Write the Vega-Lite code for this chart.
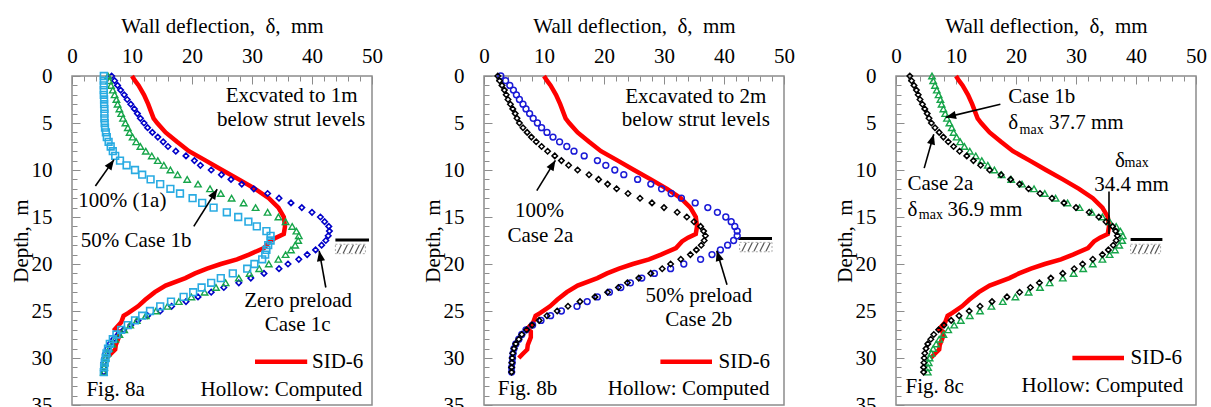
{
"$schema": "https://vega.github.io/schema/vega-lite/v6.json",
"padding": {"left": 9, "top": 14, "right": 0, "bottom": 0},
"autosize": {"type": "pad"},
"background": "white",
"spacing": 112,
"bounds": "flush",
"datasets": {
"sid": [{"d":0,"v":10.0},{"d":0.5,"v":10.5},{"d":1,"v":11.1},{"d":2,"v":12.0},{"d":3,"v":12.7},{"d":4,"v":13.3},{"d":4.5,"v":13.6},{"d":5,"v":14.2},{"d":6,"v":15.6},{"d":7,"v":17.5},{"d":8,"v":19.5},{"d":9,"v":22.3},{"d":10,"v":25.0},{"d":11,"v":27.8},{"d":12,"v":30.5},{"d":13,"v":32.8},{"d":14,"v":34.4},{"d":15,"v":35.3},{"d":16,"v":35.5},{"d":16.8,"v":35.3},{"d":17.2,"v":34.0},{"d":17.6,"v":33.0},{"d":18.3,"v":32.0},{"d":19,"v":29.5},{"d":19.5,"v":27.5},{"d":20,"v":24.8},{"d":20.5,"v":22.5},{"d":21,"v":20.5},{"d":21.5,"v":18.9},{"d":22.3,"v":15.6},{"d":23,"v":13.8},{"d":23.8,"v":12.2},{"d":24.5,"v":11.0},{"d":25.2,"v":9.4},{"d":25.5,"v":8.6},{"d":26.2,"v":8.2},{"d":26.9,"v":7.2},{"d":27.2,"v":7.8},{"d":27.8,"v":7.8},{"d":28.6,"v":7.3},{"d":29.1,"v":7.2},{"d":29.6,"v":6.4},{"d":30.0,"v":5.8}],
"comp": [
{"s":"1a","d":0,"v":5.3},{"s":"1a","d":0.5,"v":5.3},{"s":"1a","d":1,"v":5.3},{"s":"1a","d":1.5,"v":5.3},{"s":"1a","d":2,"v":5.3},{"s":"1a","d":2.5,"v":5.35},{"s":"1a","d":3,"v":5.35},{"s":"1a","d":3.5,"v":5.4},{"s":"1a","d":4,"v":5.4},{"s":"1a","d":4.5,"v":5.4},{"s":"1a","d":5,"v":5.45},{"s":"1a","d":5.5,"v":5.5},{"s":"1a","d":6,"v":5.65},{"s":"1a","d":6.5,"v":5.8},{"s":"1a","d":7,"v":6.1},{"s":"1a","d":7.5,"v":6.45},{"s":"1a","d":8,"v":6.8},{"s":"1a","d":8.5,"v":7.2},{"s":"1a","d":9,"v":8.0},{"s":"1a","d":9.5,"v":9.1},{"s":"1a","d":10,"v":10.5},{"s":"1a","d":10.5,"v":11.7},{"s":"1a","d":11,"v":13.1},{"s":"1a","d":11.5,"v":14.7},{"s":"1a","d":12,"v":16.4},{"s":"1a","d":12.5,"v":18.0},{"s":"1a","d":13,"v":20.1},{"s":"1a","d":13.5,"v":21.7},{"s":"1a","d":14,"v":23.6},{"s":"1a","d":14.5,"v":25.8},{"s":"1a","d":15,"v":27.7},{"s":"1a","d":15.5,"v":29.4},{"s":"1a","d":16,"v":30.8},{"s":"1a","d":16.5,"v":32.4},{"s":"1a","d":17,"v":33.1},{"s":"1a","d":17.5,"v":33.1},{"s":"1a","d":18,"v":32.7},{"s":"1a","d":18.5,"v":32.4},{"s":"1a","d":19,"v":32.2},{"s":"1a","d":19.5,"v":31.7},{"s":"1a","d":20,"v":30.4},{"s":"1a","d":20.5,"v":29.2},{"s":"1a","d":21,"v":26.8},{"s":"1a","d":21.5,"v":24.8},{"s":"1a","d":22,"v":23.2},{"s":"1a","d":22.5,"v":21.6},{"s":"1a","d":23,"v":20.2},{"s":"1a","d":23.5,"v":18.6},{"s":"1a","d":24,"v":16.5},{"s":"1a","d":24.5,"v":14.7},{"s":"1a","d":25,"v":13.0},{"s":"1a","d":25.5,"v":11.7},{"s":"1a","d":26,"v":10.5},{"s":"1a","d":26.5,"v":9.3},{"s":"1a","d":27,"v":8.2},{"s":"1a","d":27.5,"v":7.4},{"s":"1a","d":28,"v":6.8},{"s":"1a","d":28.5,"v":6.3},{"s":"1a","d":29,"v":6.0},{"s":"1a","d":29.5,"v":5.75},{"s":"1a","d":30,"v":5.6},{"s":"1a","d":30.5,"v":5.45},{"s":"1a","d":31,"v":5.35},{"s":"1a","d":31.5,"v":5.3},
{"s":"1b","d":0,"v":6.0},{"s":"1b","d":0.5,"v":6.2},{"s":"1b","d":1,"v":6.5},{"s":"1b","d":1.5,"v":6.8},{"s":"1b","d":2,"v":7.1},{"s":"1b","d":2.5,"v":7.4},{"s":"1b","d":3,"v":7.6},{"s":"1b","d":3.5,"v":7.9},{"s":"1b","d":4,"v":8.2},{"s":"1b","d":4.5,"v":8.5},{"s":"1b","d":5,"v":8.9},{"s":"1b","d":5.5,"v":9.3},{"s":"1b","d":6,"v":9.6},{"s":"1b","d":6.5,"v":10.1},{"s":"1b","d":7,"v":10.7},{"s":"1b","d":7.5,"v":11.4},{"s":"1b","d":8,"v":12.3},{"s":"1b","d":8.5,"v":13.3},{"s":"1b","d":9,"v":14.3},{"s":"1b","d":9.5,"v":15.3},{"s":"1b","d":10,"v":16.4},{"s":"1b","d":10.5,"v":17.6},{"s":"1b","d":11,"v":19.2},{"s":"1b","d":11.5,"v":21.0},{"s":"1b","d":12,"v":23.0},{"s":"1b","d":12.5,"v":24.8},{"s":"1b","d":13,"v":26.6},{"s":"1b","d":13.5,"v":28.6},{"s":"1b","d":14,"v":30.6},{"s":"1b","d":14.5,"v":32.6},{"s":"1b","d":15,"v":34.4},{"s":"1b","d":15.5,"v":35.6},{"s":"1b","d":16,"v":36.7},{"s":"1b","d":16.5,"v":37.4},{"s":"1b","d":17,"v":37.8},{"s":"1b","d":17.5,"v":37.7},{"s":"1b","d":18,"v":37.2},{"s":"1b","d":18.5,"v":36.5},{"s":"1b","d":19,"v":35.6},{"s":"1b","d":19.5,"v":34.4},{"s":"1b","d":20,"v":32.8},{"s":"1b","d":20.5,"v":31.2},{"s":"1b","d":21,"v":29.6},{"s":"1b","d":21.5,"v":27.8},{"s":"1b","d":22,"v":25.6},{"s":"1b","d":22.5,"v":24.0},{"s":"1b","d":23,"v":22.1},{"s":"1b","d":23.5,"v":19.9},{"s":"1b","d":24,"v":17.8},{"s":"1b","d":24.5,"v":15.9},{"s":"1b","d":25,"v":14.0},{"s":"1b","d":25.5,"v":12.3},{"s":"1b","d":26,"v":10.8},{"s":"1b","d":26.5,"v":9.7},{"s":"1b","d":27,"v":8.7},{"s":"1b","d":27.5,"v":7.9},{"s":"1b","d":28,"v":7.2},{"s":"1b","d":28.5,"v":6.7},{"s":"1b","d":29,"v":6.2},{"s":"1b","d":29.5,"v":5.9},{"s":"1b","d":30,"v":5.6},{"s":"1b","d":30.5,"v":5.45},{"s":"1b","d":31,"v":5.35},{"s":"1b","d":31.5,"v":5.3},
{"s":"1c","d":0,"v":6.6},{"s":"1c","d":0.5,"v":7.1},{"s":"1c","d":1,"v":7.6},{"s":"1c","d":1.5,"v":8.1},{"s":"1c","d":2,"v":8.7},{"s":"1c","d":2.5,"v":9.2},{"s":"1c","d":3,"v":9.8},{"s":"1c","d":3.5,"v":10.4},{"s":"1c","d":4,"v":10.9},{"s":"1c","d":4.5,"v":11.4},{"s":"1c","d":5,"v":12.0},{"s":"1c","d":5.5,"v":12.6},{"s":"1c","d":6,"v":13.4},{"s":"1c","d":6.5,"v":14.3},{"s":"1c","d":7,"v":15.2},{"s":"1c","d":7.5,"v":16.0},{"s":"1c","d":8,"v":17.3},{"s":"1c","d":8.5,"v":19.0},{"s":"1c","d":9,"v":20.4},{"s":"1c","d":9.5,"v":21.4},{"s":"1c","d":10,"v":23.2},{"s":"1c","d":10.5,"v":24.9},{"s":"1c","d":11,"v":26.5},{"s":"1c","d":11.5,"v":28.3},{"s":"1c","d":12,"v":30.3},{"s":"1c","d":12.5,"v":32.6},{"s":"1c","d":13,"v":34.5},{"s":"1c","d":13.5,"v":36.5},{"s":"1c","d":14,"v":38.3},{"s":"1c","d":14.5,"v":40.0},{"s":"1c","d":15,"v":41.4},{"s":"1c","d":15.5,"v":42.1},{"s":"1c","d":16,"v":42.8},{"s":"1c","d":16.5,"v":42.9},{"s":"1c","d":17,"v":42.7},{"s":"1c","d":17.5,"v":42.3},{"s":"1c","d":18,"v":41.6},{"s":"1c","d":18.5,"v":40.6},{"s":"1c","d":19,"v":39.2},{"s":"1c","d":19.5,"v":37.8},{"s":"1c","d":20,"v":36.0},{"s":"1c","d":20.5,"v":34.5},{"s":"1c","d":21,"v":32.0},{"s":"1c","d":21.5,"v":29.8},{"s":"1c","d":22,"v":27.8},{"s":"1c","d":22.5,"v":25.3},{"s":"1c","d":23,"v":23.2},{"s":"1c","d":23.5,"v":21.0},{"s":"1c","d":24,"v":19.0},{"s":"1c","d":24.5,"v":16.6},{"s":"1c","d":25,"v":14.7},{"s":"1c","d":25.5,"v":12.6},{"s":"1c","d":26,"v":11.0},{"s":"1c","d":26.5,"v":9.8},{"s":"1c","d":27,"v":8.6},{"s":"1c","d":27.5,"v":7.7},{"s":"1c","d":28,"v":6.9},{"s":"1c","d":28.5,"v":6.3},{"s":"1c","d":29,"v":5.9},{"s":"1c","d":29.5,"v":5.6},{"s":"1c","d":30,"v":5.45},{"s":"1c","d":30.5,"v":5.3},{"s":"1c","d":31,"v":5.3},{"s":"1c","d":31.5,"v":5.3},
{"s":"2a","d":0,"v":2.3},{"s":"2a","d":0.5,"v":2.6},{"s":"2a","d":1,"v":3.0},{"s":"2a","d":1.5,"v":3.4},{"s":"2a","d":2,"v":3.7},{"s":"2a","d":2.5,"v":4.0},{"s":"2a","d":3,"v":4.4},{"s":"2a","d":3.5,"v":4.8},{"s":"2a","d":4,"v":5.2},{"s":"2a","d":4.5,"v":5.5},{"s":"2a","d":5,"v":5.9},{"s":"2a","d":5.5,"v":6.5},{"s":"2a","d":6,"v":7.2},{"s":"2a","d":6.5,"v":7.9},{"s":"2a","d":7,"v":8.7},{"s":"2a","d":7.5,"v":9.6},{"s":"2a","d":8,"v":10.6},{"s":"2a","d":8.5,"v":11.8},{"s":"2a","d":9,"v":12.9},{"s":"2a","d":9.5,"v":14.1},{"s":"2a","d":10,"v":15.6},{"s":"2a","d":10.5,"v":17.5},{"s":"2a","d":11,"v":19.1},{"s":"2a","d":11.5,"v":20.6},{"s":"2a","d":12,"v":22.1},{"s":"2a","d":12.5,"v":24.0},{"s":"2a","d":13,"v":26.0},{"s":"2a","d":13.5,"v":28.0},{"s":"2a","d":14,"v":30.0},{"s":"2a","d":14.5,"v":32.2},{"s":"2a","d":15,"v":33.8},{"s":"2a","d":15.5,"v":35.0},{"s":"2a","d":16,"v":36.1},{"s":"2a","d":16.5,"v":36.6},{"s":"2a","d":17,"v":36.9},{"s":"2a","d":17.5,"v":36.7},{"s":"2a","d":18,"v":36.2},{"s":"2a","d":18.5,"v":35.4},{"s":"2a","d":19,"v":34.4},{"s":"2a","d":19.5,"v":32.8},{"s":"2a","d":20,"v":31.1},{"s":"2a","d":20.5,"v":29.7},{"s":"2a","d":21,"v":27.8},{"s":"2a","d":21.5,"v":25.8},{"s":"2a","d":22,"v":23.9},{"s":"2a","d":22.5,"v":22.4},{"s":"2a","d":23,"v":20.6},{"s":"2a","d":23.5,"v":18.5},{"s":"2a","d":24,"v":16.0},{"s":"2a","d":24.5,"v":14.0},{"s":"2a","d":25,"v":12.2},{"s":"2a","d":25.5,"v":10.5},{"s":"2a","d":26,"v":9.2},{"s":"2a","d":26.5,"v":8.0},{"s":"2a","d":27,"v":7.1},{"s":"2a","d":27.5,"v":6.3},{"s":"2a","d":28,"v":5.8},{"s":"2a","d":28.5,"v":5.3},{"s":"2a","d":29,"v":5.0},{"s":"2a","d":29.5,"v":4.8},{"s":"2a","d":30,"v":4.7},{"s":"2a","d":30.5,"v":4.65},{"s":"2a","d":31,"v":4.6},{"s":"2a","d":31.5,"v":4.6},
{"s":"2b","d":0,"v":2.8},{"s":"2b","d":0.5,"v":3.6},{"s":"2b","d":1,"v":4.3},{"s":"2b","d":1.5,"v":4.9},{"s":"2b","d":2,"v":5.4},{"s":"2b","d":2.5,"v":5.9},{"s":"2b","d":3,"v":6.5},{"s":"2b","d":3.5,"v":7.0},{"s":"2b","d":4,"v":7.6},{"s":"2b","d":4.5,"v":8.2},{"s":"2b","d":5,"v":8.9},{"s":"2b","d":5.5,"v":9.6},{"s":"2b","d":6,"v":10.5},{"s":"2b","d":6.5,"v":11.5},{"s":"2b","d":7,"v":12.6},{"s":"2b","d":7.5,"v":13.8},{"s":"2b","d":8,"v":15.0},{"s":"2b","d":8.5,"v":16.7},{"s":"2b","d":9,"v":18.9},{"s":"2b","d":9.5,"v":20.3},{"s":"2b","d":10,"v":21.8},{"s":"2b","d":10.5,"v":23.3},{"s":"2b","d":11,"v":25.6},{"s":"2b","d":11.5,"v":27.8},{"s":"2b","d":12,"v":29.6},{"s":"2b","d":12.5,"v":31.2},{"s":"2b","d":13,"v":32.9},{"s":"2b","d":13.5,"v":35.2},{"s":"2b","d":14,"v":37.3},{"s":"2b","d":14.5,"v":38.9},{"s":"2b","d":15,"v":40.3},{"s":"2b","d":15.5,"v":41.2},{"s":"2b","d":16,"v":41.8},{"s":"2b","d":16.5,"v":42.2},{"s":"2b","d":17,"v":42.2},{"s":"2b","d":17.5,"v":41.6},{"s":"2b","d":18,"v":40.6},{"s":"2b","d":18.5,"v":39.4},{"s":"2b","d":19,"v":38.0},{"s":"2b","d":19.5,"v":36.1},{"s":"2b","d":20,"v":33.3},{"s":"2b","d":20.5,"v":31.1},{"s":"2b","d":21,"v":28.4},{"s":"2b","d":21.5,"v":26.3},{"s":"2b","d":22,"v":24.4},{"s":"2b","d":22.5,"v":22.8},{"s":"2b","d":23,"v":20.9},{"s":"2b","d":23.5,"v":18.9},{"s":"2b","d":24,"v":17.2},{"s":"2b","d":24.5,"v":15.5},{"s":"2b","d":25,"v":12.9},{"s":"2b","d":25.5,"v":11.1},{"s":"2b","d":26,"v":9.5},{"s":"2b","d":26.5,"v":8.1},{"s":"2b","d":27,"v":7.0},{"s":"2b","d":27.5,"v":6.3},{"s":"2b","d":28,"v":5.8},{"s":"2b","d":28.5,"v":5.3},{"s":"2b","d":29,"v":5.0},{"s":"2b","d":29.5,"v":4.85},{"s":"2b","d":30,"v":4.75},{"s":"2b","d":30.5,"v":4.7},{"s":"2b","d":31,"v":4.6},{"s":"2b","d":31.5,"v":4.6}
],
"gnd": [{"p":1,"v":43.9,"v2":49.5,"d":17.45},{"p":2,"v":42.4,"v2":48.0,"d":17.3},{"p":3,"v":39.1,"v2":44.4,"d":17.4}],
"box": [{"p":1,"v":43.9,"v2":48.9,"d":17.9,"d2":18.9},{"p":2,"v":42.6,"v2":48.0,"d":17.7,"d2":18.7},{"p":3,"v":39.1,"v2":44.1,"d":17.9,"d2":18.9}],
"hatch": [
{"p":1,"v":44.2,"d":18.85,"v2":44.9,"d2":17.95},{"p":1,"v":45.2,"d":18.85,"v2":45.9,"d2":17.95},{"p":1,"v":46.2,"d":18.85,"v2":46.9,"d2":17.95},{"p":1,"v":47.2,"d":18.85,"v2":47.9,"d2":17.95},{"p":1,"v":48.0,"d":18.85,"v2":48.7,"d2":17.95},
{"p":2,"v":43.0,"d":18.65,"v2":43.7,"d2":17.75},{"p":2,"v":44.0,"d":18.65,"v2":44.7,"d2":17.75},{"p":2,"v":45.0,"d":18.65,"v2":45.7,"d2":17.75},{"p":2,"v":46.0,"d":18.65,"v2":46.7,"d2":17.75},{"p":2,"v":47.0,"d":18.65,"v2":47.7,"d2":17.75},
{"p":3,"v":39.4,"d":18.85,"v2":40.1,"d2":17.95},{"p":3,"v":40.4,"d":18.85,"v2":41.1,"d2":17.95},{"p":3,"v":41.4,"d":18.85,"v2":42.1,"d2":17.95},{"p":3,"v":42.4,"d":18.85,"v2":43.1,"d2":17.95},{"p":3,"v":43.2,"d":18.85,"v2":43.9,"d2":17.95}
],
"leg": [{"p":1,"v":30.5,"v2":39.2,"d":30.4},{"p":2,"v":29.4,"v2":38.0,"d":30.4},{"p":3,"v":29.4,"v2":38.0,"d":30.0}],
"arr": [
{"p":1,"h":1,"v":7.0,"d":8.9,"v2":3.9,"d2":11.7},{"p":1,"h":1,"v":24.2,"d":12.05,"v2":20.3,"d2":16.0},{"p":1,"h":1,"v":41.2,"d":18.6,"v2":42.3,"d2":22.5},
{"p":2,"h":1,"v":11.9,"d":8.97,"v2":8.8,"d2":12.2},{"p":2,"h":1,"v":38.8,"d":18.6,"v2":40.5,"d2":22.2},
{"p":3,"h":1,"v":8.3,"d":4.4,"v2":17.4,"d2":3.0},{"p":3,"h":1,"v":6.3,"d":6.2,"v2":4.7,"d2":9.8},{"p":3,"h":0,"v":35.5,"d":16.8,"v2":35.5,"d2":12.3}
],
"txtC": [
{"p":1,"t":"Excvated to 1m","v":36.6,"d":2.1},{"p":1,"t":"below strut levels","v":36.5,"d":4.7},{"p":1,"t":"100% (1a)","v":8.4,"d":13.3},{"p":1,"t":"50% Case 1b","v":10.7,"d":17.5},{"p":1,"t":"Zero preload","v":37.7,"d":23.9},{"p":1,"t":"Case 1c","v":37.6,"d":26.5},{"p":1,"t":"Hollow: Computed","v":34.9,"d":33.4},
{"p":2,"t":"Excavated to 2m","v":35.3,"d":2.2},{"p":2,"t":"below strut levels","v":35.3,"d":4.7},{"p":2,"t":"100%","v":9.25,"d":14.4},{"p":2,"t":"Case 2a","v":9.4,"d":17.0},{"p":2,"t":"50% preload","v":35.8,"d":23.4},{"p":2,"t":"Case 2b","v":35.8,"d":26.0},{"p":2,"t":"Hollow: Computed","v":34.1,"d":33.3},
{"p":3,"t":"34.4 mm","v":39.25,"d":11.55},{"p":3,"t":"Hollow: Computed","v":34.4,"d":33.0}
],
"txtL": [
{"p":1,"t":"SID-6","v":40.0,"d":30.4},{"p":1,"t":"Fig. 8a","v":2.4,"d":33.4},
{"p":2,"t":"SID-6","v":39.1,"d":30.4},{"p":2,"t":"Fig. 8b","v":2.3,"d":33.3},
{"p":3,"t":"SID-6","v":39.1,"d":30.0},{"p":3,"t":"Fig. 8c","v":1.6,"d":33.1},{"p":3,"t":"Case 1b","v":18.7,"d":2.2},{"p":3,"t":"δ","v":18.7,"d":5.0},{"p":3,"t":"37.7 mm","v":25.5,"d":5.0},{"p":3,"t":"δ","v":36.5,"d":9.0},{"p":3,"t":"Case 2a","v":1.9,"d":11.5},{"p":3,"t":"δ","v":1.9,"d":14.26},{"p":3,"t":"36.9 mm","v":8.6,"d":14.26}
],
"txtS": [{"p":3,"t":"max","v":20.6,"d":5.75},{"p":3,"t":"max","v":38.1,"d":9.3},{"p":3,"t":"max","v":3.8,"d":14.8}]
},
"hconcat": [
{
"width": 300, "height": 329,
"encoding": {
"x": {"field": "v", "type": "quantitative", "scale": {"domain": [0, 50], "nice": false, "zero": false},
 "axis": {"orient": "top", "title": "Wall deflection,\u00a0 δ,\u00a0 mm", "values": [0,2,4,6,8,10,12,14,16,18,20,22,24,26,28,30,32,34,36,38,40,42,44,46,48,50], "labelExpr": "datum.value % 10 === 0 ? datum.label : ''", "tickSize": {"condition": {"test": "datum.value % 10 === 0", "value": -8}, "value": -5}, "labelPadding": 18, "titlePadding": 6}},
"y": {"field": "d", "type": "quantitative", "scale": {"domain": [0, 35], "reverse": true, "nice": false, "zero": false},
 "axis": {"orient": "left", "title": "Depth,\u00a0 m", "values": [0,1,2,3,4,5,6,7,8,9,10,11,12,13,14,15,16,17,18,19,20,21,22,23,24,25,26,27,28,29,30,31,32,33,34,35], "labelExpr": "datum.value % 5 === 0 ? datum.label : ''", "tickSize": {"condition": {"test": "datum.value % 5 === 0", "value": -8}, "value": -5}, "labelPadding": 28, "titlePadding": 0}}
},
"layer": [
{"data": {"name": "gnd"}, "transform": [{"filter": "datum.p == 1"}], "mark": {"type": "rule", "color": "#000", "strokeWidth": 3}, "encoding": {"x2": {"field": "v2"}}},
{"data": {"name": "box"}, "transform": [{"filter": "datum.p == 1"}], "mark": {"type": "rect", "fillOpacity": 0, "stroke": "#aaa", "strokeWidth": 1, "strokeDash": [2, 2]}, "encoding": {"x2": {"field": "v2"}, "y2": {"field": "d2"}}},
{"data": {"name": "hatch"}, "transform": [{"filter": "datum.p == 1"}], "mark": {"type": "rule", "color": "#555", "strokeWidth": 1.2}, "encoding": {"x2": {"field": "v2"}, "y2": {"field": "d2"}}},
{"data": {"name": "sid"}, "mark": {"type": "line", "color": "#ff0000", "strokeWidth": 4.5}, "encoding": {"order": {"field": "d", "type": "quantitative"}}},
{"data": {"name": "comp"}, "transform": [{"filter": "datum.s == '1c'"}], "mark": {"type": "point", "shape": "diamond", "filled": false, "size": 30, "color": "#0000c8", "strokeWidth": 1.6, "opacity": 1}},
{"data": {"name": "comp"}, "transform": [{"filter": "datum.s == '1b'"}], "mark": {"type": "point", "shape": "triangle-up", "filled": false, "size": 42, "color": "#17a54a", "strokeWidth": 1.4, "opacity": 1}},
{"data": {"name": "comp"}, "transform": [{"filter": "datum.s == '1a'"}], "mark": {"type": "point", "shape": "square", "filled": false, "size": 45, "color": "#29abe2", "strokeWidth": 1.6, "opacity": 1}},
{"data": {"name": "leg"}, "transform": [{"filter": "datum.p == 1"}], "mark": {"type": "rule", "color": "#ff0000", "strokeWidth": 4.5}, "encoding": {"x2": {"field": "v2"}}},
{"data": {"name": "arr"}, "transform": [{"filter": "datum.p == 1"}], "mark": {"type": "rule", "color": "#000", "strokeWidth": 1.6}, "encoding": {"x2": {"field": "v2"}, "y2": {"field": "d2"}}},
{"data": {"name": "arr"}, "transform": [{"filter": "datum.p == 1 && datum.h == 1"}, {"calculate": "atan2(6*(datum.v-datum.v2), -9.4*(datum.d-datum.d2))*180/PI", "as": "ang"}], "mark": {"type": "point", "shape": "M0,0L-0.4,1L0.4,1Z", "filled": true, "color": "#000", "size": 420, "strokeWidth": 0, "opacity": 1}, "encoding": {"angle": {"field": "ang", "type": "quantitative", "scale": null}}},
{"data": {"name": "txtC"}, "transform": [{"filter": "datum.p == 1"}], "mark": {"type": "text", "align": "center", "baseline": "middle", "fontSize": 21, "color": "#000"}, "encoding": {"text": {"field": "t"}}},
{"data": {"name": "txtL"}, "transform": [{"filter": "datum.p == 1"}], "mark": {"type": "text", "align": "left", "baseline": "middle", "fontSize": 21, "color": "#000"}, "encoding": {"text": {"field": "t"}}}
]
},
{
"width": 300, "height": 329,
"encoding": {
"x": {"field": "v", "type": "quantitative", "scale": {"domain": [0, 50], "nice": false, "zero": false},
 "axis": {"orient": "top", "title": "Wall deflection,\u00a0 δ,\u00a0 mm", "values": [0,2,4,6,8,10,12,14,16,18,20,22,24,26,28,30,32,34,36,38,40,42,44,46,48,50], "labelExpr": "datum.value % 10 === 0 ? datum.label : ''", "tickSize": {"condition": {"test": "datum.value % 10 === 0", "value": -8}, "value": -5}, "labelPadding": 18, "titlePadding": 6}},
"y": {"field": "d", "type": "quantitative", "scale": {"domain": [0, 35], "reverse": true, "nice": false, "zero": false},
 "axis": {"orient": "left", "title": "Depth,\u00a0 m", "values": [0,1,2,3,4,5,6,7,8,9,10,11,12,13,14,15,16,17,18,19,20,21,22,23,24,25,26,27,28,29,30,31,32,33,34,35], "labelExpr": "datum.value % 5 === 0 ? datum.label : ''", "tickSize": {"condition": {"test": "datum.value % 5 === 0", "value": -8}, "value": -5}, "labelPadding": 28, "titlePadding": 0}}
},
"layer": [
{"data": {"name": "gnd"}, "transform": [{"filter": "datum.p == 2"}], "mark": {"type": "rule", "color": "#000", "strokeWidth": 3}, "encoding": {"x2": {"field": "v2"}}},
{"data": {"name": "box"}, "transform": [{"filter": "datum.p == 2"}], "mark": {"type": "rect", "fillOpacity": 0, "stroke": "#aaa", "strokeWidth": 1, "strokeDash": [2, 2]}, "encoding": {"x2": {"field": "v2"}, "y2": {"field": "d2"}}},
{"data": {"name": "hatch"}, "transform": [{"filter": "datum.p == 2"}], "mark": {"type": "rule", "color": "#555", "strokeWidth": 1.2}, "encoding": {"x2": {"field": "v2"}, "y2": {"field": "d2"}}},
{"data": {"name": "sid"}, "mark": {"type": "line", "color": "#ff0000", "strokeWidth": 4.5}, "encoding": {"order": {"field": "d", "type": "quantitative"}}},
{"data": {"name": "comp"}, "transform": [{"filter": "datum.s == '2b'"}], "mark": {"type": "point", "shape": "circle", "filled": false, "size": 34, "color": "#1a1ad6", "strokeWidth": 1.5, "opacity": 1}},
{"data": {"name": "comp"}, "transform": [{"filter": "datum.s == '2a'"}], "mark": {"type": "point", "shape": "diamond", "filled": false, "size": 30, "color": "#000", "strokeWidth": 1.5, "opacity": 1}},
{"data": {"name": "leg"}, "transform": [{"filter": "datum.p == 2"}], "mark": {"type": "rule", "color": "#ff0000", "strokeWidth": 4.5}, "encoding": {"x2": {"field": "v2"}}},
{"data": {"name": "arr"}, "transform": [{"filter": "datum.p == 2"}], "mark": {"type": "rule", "color": "#000", "strokeWidth": 1.6}, "encoding": {"x2": {"field": "v2"}, "y2": {"field": "d2"}}},
{"data": {"name": "arr"}, "transform": [{"filter": "datum.p == 2 && datum.h == 1"}, {"calculate": "atan2(6*(datum.v-datum.v2), -9.4*(datum.d-datum.d2))*180/PI", "as": "ang"}], "mark": {"type": "point", "shape": "M0,0L-0.4,1L0.4,1Z", "filled": true, "color": "#000", "size": 420, "strokeWidth": 0, "opacity": 1}, "encoding": {"angle": {"field": "ang", "type": "quantitative", "scale": null}}},
{"data": {"name": "txtC"}, "transform": [{"filter": "datum.p == 2"}], "mark": {"type": "text", "align": "center", "baseline": "middle", "fontSize": 21, "color": "#000"}, "encoding": {"text": {"field": "t"}}},
{"data": {"name": "txtL"}, "transform": [{"filter": "datum.p == 2"}], "mark": {"type": "text", "align": "left", "baseline": "middle", "fontSize": 21, "color": "#000"}, "encoding": {"text": {"field": "t"}}}
]
},
{
"width": 300, "height": 329,
"encoding": {
"x": {"field": "v", "type": "quantitative", "scale": {"domain": [0, 50], "nice": false, "zero": false},
 "axis": {"orient": "top", "title": "Wall deflection,\u00a0 δ,\u00a0 mm", "values": [0,2,4,6,8,10,12,14,16,18,20,22,24,26,28,30,32,34,36,38,40,42,44,46,48,50], "labelExpr": "datum.value % 10 === 0 ? datum.label : ''", "tickSize": {"condition": {"test": "datum.value % 10 === 0", "value": -8}, "value": -5}, "labelPadding": 18, "titlePadding": 6}},
"y": {"field": "d", "type": "quantitative", "scale": {"domain": [0, 35], "reverse": true, "nice": false, "zero": false},
 "axis": {"orient": "left", "title": "Depth,\u00a0 m", "values": [0,1,2,3,4,5,6,7,8,9,10,11,12,13,14,15,16,17,18,19,20,21,22,23,24,25,26,27,28,29,30,31,32,33,34,35], "labelExpr": "datum.value % 5 === 0 ? datum.label : ''", "tickSize": {"condition": {"test": "datum.value % 5 === 0", "value": -8}, "value": -5}, "labelPadding": 28, "titlePadding": 0}}
},
"layer": [
{"data": {"name": "gnd"}, "transform": [{"filter": "datum.p == 3"}], "mark": {"type": "rule", "color": "#000", "strokeWidth": 3}, "encoding": {"x2": {"field": "v2"}}},
{"data": {"name": "box"}, "transform": [{"filter": "datum.p == 3"}], "mark": {"type": "rect", "fillOpacity": 0, "stroke": "#aaa", "strokeWidth": 1, "strokeDash": [2, 2]}, "encoding": {"x2": {"field": "v2"}, "y2": {"field": "d2"}}},
{"data": {"name": "hatch"}, "transform": [{"filter": "datum.p == 3"}], "mark": {"type": "rule", "color": "#555", "strokeWidth": 1.2}, "encoding": {"x2": {"field": "v2"}, "y2": {"field": "d2"}}},
{"data": {"name": "sid"}, "mark": {"type": "line", "color": "#ff0000", "strokeWidth": 4.5}, "encoding": {"order": {"field": "d", "type": "quantitative"}}},
{"data": {"name": "comp"}, "transform": [{"filter": "datum.s == '1b'"}], "mark": {"type": "point", "shape": "triangle-up", "filled": false, "size": 42, "color": "#17a54a", "strokeWidth": 1.4, "opacity": 1}},
{"data": {"name": "comp"}, "transform": [{"filter": "datum.s == '2a'"}], "mark": {"type": "point", "shape": "diamond", "filled": false, "size": 30, "color": "#000", "strokeWidth": 1.5, "opacity": 1}},
{"data": {"name": "leg"}, "transform": [{"filter": "datum.p == 3"}], "mark": {"type": "rule", "color": "#ff0000", "strokeWidth": 4.5}, "encoding": {"x2": {"field": "v2"}}},
{"data": {"name": "arr"}, "transform": [{"filter": "datum.p == 3"}], "mark": {"type": "rule", "color": "#000", "strokeWidth": 1.6}, "encoding": {"x2": {"field": "v2"}, "y2": {"field": "d2"}}},
{"data": {"name": "arr"}, "transform": [{"filter": "datum.p == 3 && datum.h == 1"}, {"calculate": "atan2(6*(datum.v-datum.v2), -9.4*(datum.d-datum.d2))*180/PI", "as": "ang"}], "mark": {"type": "point", "shape": "M0,0L-0.4,1L0.4,1Z", "filled": true, "color": "#000", "size": 420, "strokeWidth": 0, "opacity": 1}, "encoding": {"angle": {"field": "ang", "type": "quantitative", "scale": null}}},
{"data": {"name": "txtC"}, "transform": [{"filter": "datum.p == 3"}], "mark": {"type": "text", "align": "center", "baseline": "middle", "fontSize": 21, "color": "#000"}, "encoding": {"text": {"field": "t"}}},
{"data": {"name": "txtL"}, "transform": [{"filter": "datum.p == 3"}], "mark": {"type": "text", "align": "left", "baseline": "middle", "fontSize": 21, "color": "#000"}, "encoding": {"text": {"field": "t"}}},
{"data": {"name": "txtS"}, "transform": [{"filter": "datum.p == 3"}], "mark": {"type": "text", "align": "left", "baseline": "middle", "fontSize": 14, "color": "#000"}, "encoding": {"text": {"field": "t"}}}
]
}
],
"config": {
"font": "Liberation Serif",
"view": {"stroke": "#8c8c8c", "strokeWidth": 1.5},
"text": {"font": "Liberation Serif"},
"axis": {"labelFont": "Liberation Serif", "titleFont": "Liberation Serif", "labelFontSize": 21, "titleFontSize": 21, "titleFontWeight": "normal", "labelColor": "#000", "titleColor": "#000", "tickColor": "#8c8c8c", "tickWidth": 1, "domain": false, "grid": false, "labelOverlap": false, "labelFlush": false}
}
}
